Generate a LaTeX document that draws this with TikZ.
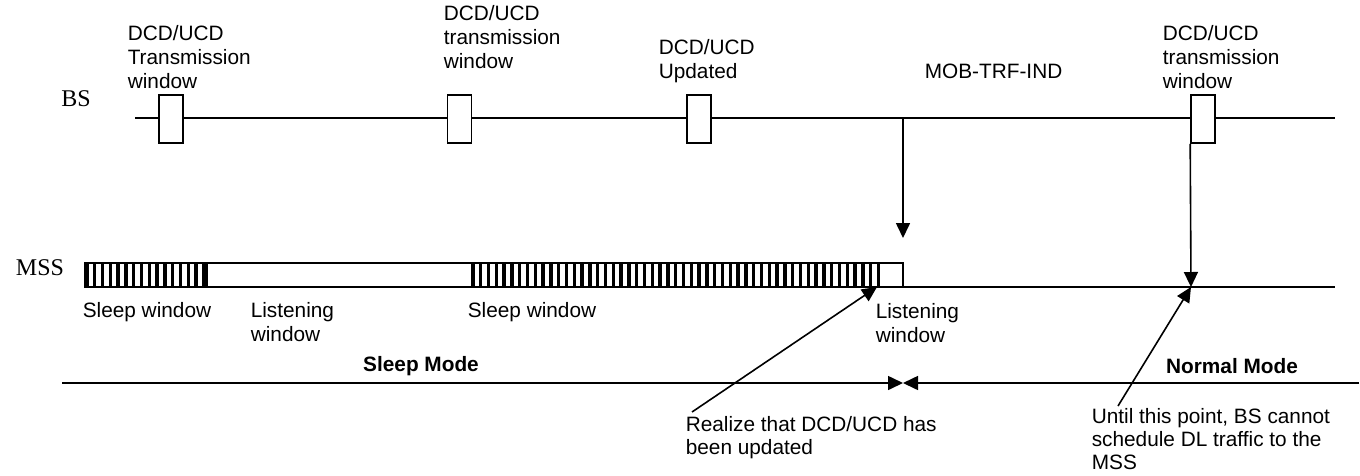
\documentclass[tikz,border=0pt]{standalone}
\usepackage{fontspec}
\setmainfont{Liberation Sans}
\newfontfamily\stationfont{Liberation Serif}
\usetikzlibrary{arrows.meta}

\definecolor{lineColor}{RGB}{0,0,0}

\tikzset{
  lbl/.style={anchor=north west, inner sep=0pt, align=left, font=\fontsize{20.8}{23.8}\selectfont},
  note/.style={lbl, font=\fontsize{20.8}{23}\selectfont},
  modelbl/.style={inner sep=0pt, font=\fontsize{20.8}{23.8}\selectfont\bfseries},
  station/.style={inner sep=0pt, font=\fontsize{24}{28}\selectfont\stationfont},
  winbox/.style={draw=lineColor, fill=white, minimum width=24pt, minimum height=48pt, inner sep=0pt},
  sig/.style={-{Triangle[length=15pt,width=14pt]}},
  stripe/.style={line width=3.4pt},
}

\begin{document}
\begin{tikzpicture}[x=1pt, y=-1pt, line width=1.6pt, draw=lineColor]
  \useasboundingbox (0,0) rectangle (1360,475);
  % BS line
  \node[station] (bs) at (76,99) {BS};
  \coordinate (bsL) at (135,118);
  \coordinate (bsR) at (1335,118);
  \draw (bsL) -- (bsR);
  \node[winbox] (w1) at (171,119) {};
  \node[winbox] (w2) at (459.5,119) {};
  \node[winbox] (w3) at (699,119) {};
  \node[winbox] (w4) at (1203,119) {};
  \node[lbl] (w1txt) at (127,25) {DCD/UCD\\Transmission\\window};
  \node[lbl] (w2txt) at (443,5) {DCD/UCD\\transmission\\window};
  \node[lbl] (w3txt) at (658,39) {DCD/UCD\\Updated};
  \node[lbl] (mobtxt) at (924,63) {MOB-TRF-IND};
  \node[lbl] (w4txt) at (1162,25) {DCD/UCD\\transmission\\window};
  % MSS line
  \node[station] (mss) at (40,268) {MSS};
  \coordinate (barR) at (903,287);
  \coordinate (mssR) at (1335,287);
  \draw (85,263) rectangle (903,287);
  \foreach \i in {0,...,15}
    \draw[stripe] ({86.8+7.8*\i},263) -- ++(0,24);
  \draw (207,263) -- (207,287);
  \foreach \i in {0,...,52}
    \draw[stripe] ({472.8+7.8*\i},263) -- ++(0,24);
  \draw (879,263) -- (879,287);
  \draw (barR) -- (mssR);
  \node[lbl] (sleep1) at (82,302) {Sleep window};
  \node[lbl] (listen1) at (250,302) {Listening\\window};
  \node[lbl] (sleep2) at (467,302) {Sleep window};
  \node[lbl] (listen2) at (875,303) {Listening\\window};
  % Messages
  \coordinate (mobTop) at (903,118);
  \coordinate (mobTip) at (903,238);
  \draw[sig] (mobTop) -- (mobTip);
  \coordinate (hit) at (1191,287);
  \draw[sig] (w4.south west) -- (hit);
  % Modes
  \coordinate (modeL) at (62,383);
  \coordinate (modeM) at (903,383);
  \coordinate (modeR) at (1359,383);
  \draw[sig] (modeL) -- (modeM);
  \draw[sig] (modeR) -- (modeM);
  \node[modelbl] (sleepmode) at (421,366) {Sleep Mode};
  \node[modelbl] (normalmode) at (1232,366) {Normal Mode};
  % Notes
  \node[note] (realize) at (685,416) {Realize that DCD/UCD has\\been updated};
  \coordinate (wake) at (877,287);
  \draw[sig] ([xshift=7pt,yshift=4pt]realize.north west) -- (wake);
  \node[note] (until) at (1091,408) {Until this point, BS cannot\\schedule DL traffic to the\\MSS};
  \draw[sig] ([xshift=27pt,yshift=2pt]until.north west) -- (hit);
\end{tikzpicture}
\end{document}
